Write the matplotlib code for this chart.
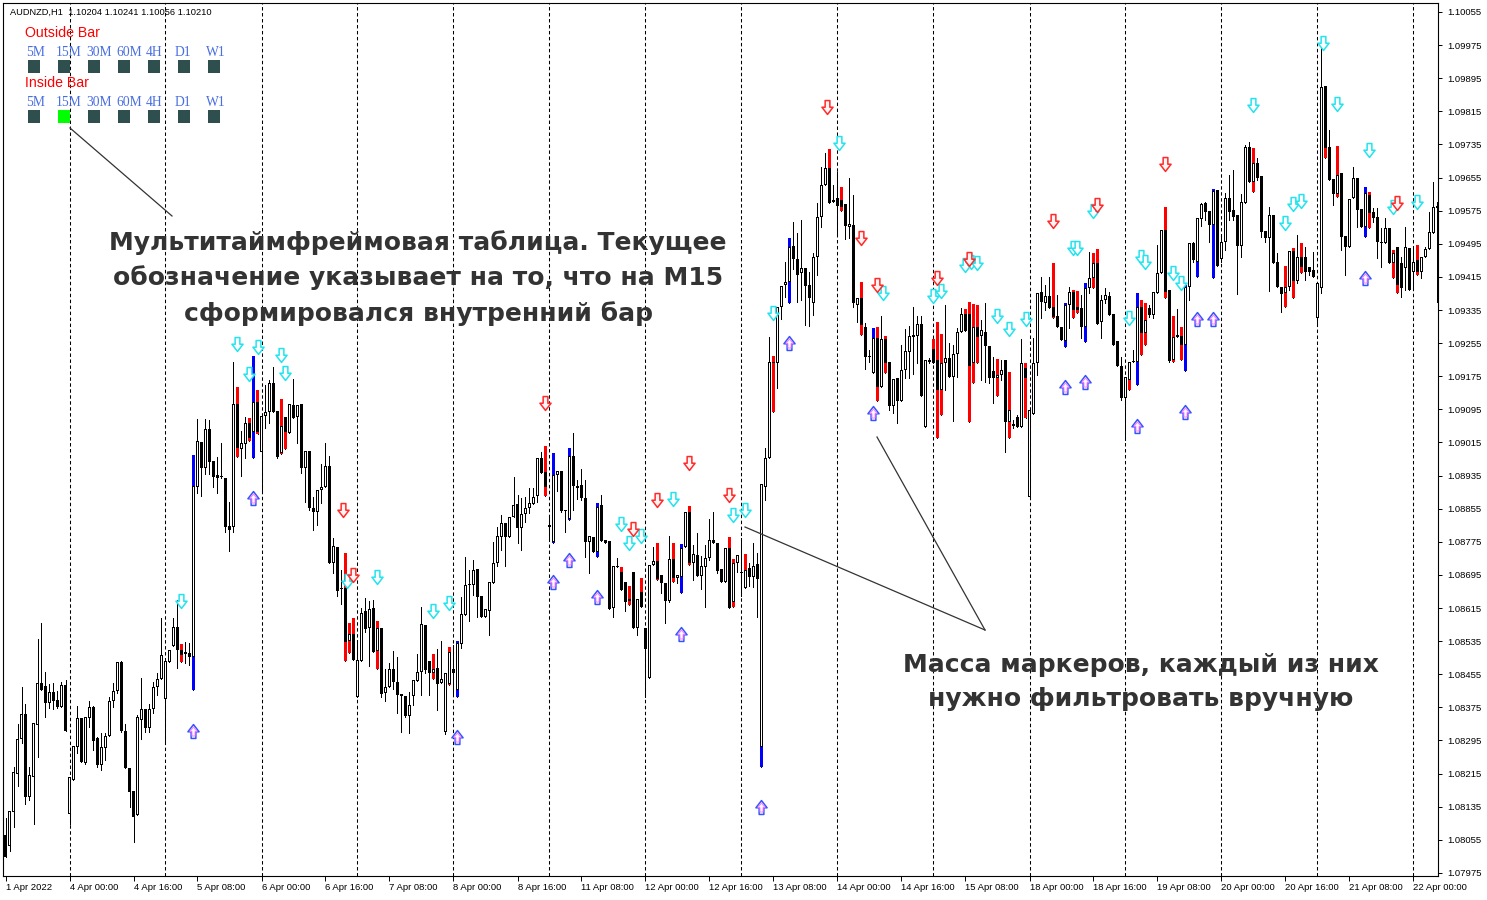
import numpy as np
import matplotlib
matplotlib.use('Agg')
import matplotlib.pyplot as plt
import matplotlib.transforms as mtransforms
from matplotlib.path import Path
from matplotlib.patches import Rectangle
from matplotlib.lines import Line2D

# AUDNZD H1, 1 Apr 2022 08:00 .. 22 Apr 2022 06:00 (one entry per bar)
opens = [
    1.08067, 1.08040, 1.08122, 1.08214, 1.08299, 1.08359, 1.08159, 1.08207, 1.08333, 1.08434, 1.08427, 1.08386,
    1.08412, 1.08393, 1.08376, 1.08429, 1.08118, 1.08200, 1.08279, 1.08350, 1.08241, 1.08350, 1.08376, 1.08301,
    1.08236, 1.08277, 1.08306, 1.08391, 1.08415, 1.08485, 1.08318, 1.08229, 1.08173, 1.08115, 1.08345, 1.08371,
    1.08325, 1.08371, 1.08424, 1.08444, 1.08395, 1.08485, 1.08523, 1.08569, 1.08514, 1.08504, 1.08507, 1.08497,
    1.08907, 1.09016, 1.08954, 1.09048, 1.08970, 1.08937, 1.08932, 1.08929, 1.08813, 1.08811, 1.09108, 1.09000,
    1.09012, 1.09062, 1.09040, 1.09113, 1.08992, 1.09079, 1.09089, 1.09159, 1.09091, 1.08990, 1.09077, 1.09038,
    1.09106, 1.09077, 1.09108, 1.08954, 1.08995, 1.08857, 1.08847, 1.08900, 1.08907, 1.08958, 1.08724, 1.08763,
    1.08661, 1.08664, 1.08536, 1.08552, 1.08400, 1.08487, 1.08608, 1.08567, 1.08615, 1.08511, 1.08567, 1.08410,
    1.08424, 1.08468, 1.08436, 1.08408, 1.08403, 1.08354, 1.08403, 1.08439, 1.08461, 1.08574, 1.08487, 1.08458,
    1.08470, 1.08434, 1.08316, 1.08432, 1.08468, 1.08417, 1.08528, 1.08598, 1.08671, 1.08671, 1.08710, 1.08644,
    1.08594, 1.08608, 1.08676, 1.08724, 1.08787, 1.08821, 1.08787, 1.08835, 1.08867, 1.08809, 1.08842, 1.08857,
    1.08867, 1.08886, 1.08977, 1.08944, 1.08811, 1.08775, 1.08937, 1.08946, 1.08852, 1.08830, 1.08982, 1.08905,
    1.08912, 1.08881, 1.08775, 1.08787, 1.08751, 1.08864, 1.08780, 1.08777, 1.08615, 1.08714, 1.08702, 1.08678,
    1.08637, 1.08702, 1.08567, 1.08654, 1.08567, 1.08446, 1.08719, 1.08729, 1.08695, 1.08676, 1.08632, 1.08734,
    1.08688, 1.08690, 1.08763, 1.08847, 1.08724, 1.08743, 1.08693, 1.08714, 1.08736, 1.08780, 1.08772, 1.08710,
    1.08678, 1.08760, 1.08630, 1.08724, 1.08700, 1.08664, 1.08712, 1.08690, 1.08722, 1.08280, 1.08907, 1.08977,
    1.09207, 1.09207, 1.09342, 1.09396, 1.09403, 1.09490, 1.09458, 1.09425, 1.09437, 1.09396, 1.09352, 1.09463,
    1.09560, 1.09637, 1.09678, 1.09601, 1.09606, 1.09601, 1.09591, 1.09536, 1.09541, 1.09347, 1.09364, 1.09294,
    1.09222, 1.09183, 1.09267, 1.09149, 1.09265, 1.09210, 1.09103, 1.09171, 1.09115, 1.09190, 1.09234, 1.09270,
    1.09272, 1.09301, 1.09053, 1.09210, 1.09241, 1.09214, 1.09142, 1.09207, 1.09219, 1.09173, 1.09229, 1.09282,
    1.09325, 1.09325, 1.09207, 1.09294, 1.09272, 1.09282, 1.09248, 1.09188, 1.09171, 1.09178, 1.09214, 1.09065,
    1.09055, 1.09077, 1.09053, 1.09195, 1.08883, 1.09084, 1.09207, 1.09379, 1.09352, 1.09369, 1.09342, 1.09321,
    1.09294, 1.09260, 1.09347, 1.09379, 1.09342, 1.09340, 1.09294, 1.09388, 1.09413, 1.09449, 1.09306, 1.09359,
    1.09369, 1.09325, 1.09260, 1.09200, 1.09123, 1.09166, 1.09210, 1.09210, 1.09342, 1.09280, 1.09340, 1.09323,
    1.09376, 1.09425, 1.09528, 1.09384, 1.09214, 1.09270, 1.09272, 1.09251, 1.09391, 1.09497, 1.09451, 1.09555,
    1.09594, 1.09574, 1.09541, 1.09625, 1.09458, 1.09499, 1.09606, 1.09577, 1.09565, 1.09490, 1.09594, 1.09729,
    1.09644, 1.09690, 1.09659, 1.09526, 1.09509, 1.09565, 1.09451, 1.09391, 1.09376, 1.09391, 1.09478, 1.09405,
    1.09463, 1.09463, 1.09439, 1.09432, 1.09316, 1.09388, 1.09876, 1.09729, 1.09652, 1.09615, 1.09666, 1.09514,
    1.09487, 1.09606, 1.09654, 1.09579, 1.09536, 1.09613, 1.09572, 1.09560, 1.09499, 1.09497, 1.09533, 1.09449,
    1.09487, 1.09449, 1.09437, 1.09485, 1.09427, 1.09456, 1.09427, 1.09463, 1.09483, 1.09521, 1.09582,
]
closes = [
    1.08014, 1.08125, 1.08219, 1.08299, 1.08359, 1.08159, 1.08212, 1.08338, 1.08434, 1.08417, 1.08386, 1.08412,
    1.08391, 1.08376, 1.08429, 1.08318, 1.08207, 1.08282, 1.08350, 1.08243, 1.08352, 1.08376, 1.08294, 1.08236,
    1.08279, 1.08306, 1.08391, 1.08415, 1.08485, 1.08318, 1.08229, 1.08171, 1.08110, 1.08352, 1.08371, 1.08325,
    1.08371, 1.08424, 1.08444, 1.08502, 1.08487, 1.08514, 1.08569, 1.08514, 1.08502, 1.08509, 1.08497, 1.08910,
    1.09019, 1.08954, 1.09048, 1.08968, 1.08932, 1.08929, 1.08932, 1.08811, 1.08804, 1.09108, 1.09002, 1.09014,
    1.09062, 1.09026, 1.09113, 1.09040, 1.09079, 1.09089, 1.09159, 1.09089, 1.08980, 1.09055, 1.09040, 1.09108,
    1.09075, 1.09106, 1.08954, 1.08995, 1.08857, 1.08847, 1.08900, 1.08907, 1.08958, 1.08724, 1.08765, 1.08656,
    1.08661, 1.08533, 1.08552, 1.08490, 1.08490, 1.08603, 1.08564, 1.08613, 1.08509, 1.08567, 1.08408, 1.08424,
    1.08468, 1.08436, 1.08405, 1.08403, 1.08354, 1.08381, 1.08441, 1.08461, 1.08577, 1.08466, 1.08458, 1.08468,
    1.08432, 1.08444, 1.08458, 1.08509, 1.08458, 1.08531, 1.08601, 1.08671, 1.08673, 1.08707, 1.08642, 1.08594,
    1.08613, 1.08678, 1.08724, 1.08789, 1.08821, 1.08787, 1.08835, 1.08864, 1.08809, 1.08842, 1.08857, 1.08869,
    1.08883, 1.08977, 1.08941, 1.08907, 1.08816, 1.08937, 1.08946, 1.08850, 1.08850, 1.08982, 1.08910, 1.08910,
    1.08881, 1.08775, 1.08789, 1.08751, 1.08859, 1.08777, 1.08772, 1.08613, 1.08717, 1.08717, 1.08659, 1.08630,
    1.08632, 1.08567, 1.08637, 1.08618, 1.08516, 1.08719, 1.08729, 1.08685, 1.08676, 1.08632, 1.08734, 1.08688,
    1.08695, 1.08760, 1.08847, 1.08724, 1.08746, 1.08693, 1.08717, 1.08736, 1.08780, 1.08772, 1.08705, 1.08678,
    1.08760, 1.08615, 1.08724, 1.08743, 1.08700, 1.08707, 1.08690, 1.08717, 1.08685, 1.08915, 1.08977, 1.09210,
    1.09210, 1.09342, 1.09393, 1.09403, 1.09487, 1.09458, 1.09420, 1.09437, 1.09393, 1.09364, 1.09463, 1.09560,
    1.09637, 1.09678, 1.09594, 1.09596, 1.09586, 1.09584, 1.09538, 1.09543, 1.09352, 1.09364, 1.09299, 1.09222,
    1.09224, 1.09267, 1.09149, 1.09265, 1.09207, 1.09103, 1.09169, 1.09115, 1.09190, 1.09236, 1.09272, 1.09275,
    1.09301, 1.09127, 1.09214, 1.09214, 1.09207, 1.09142, 1.09207, 1.09219, 1.09173, 1.09229, 1.09282, 1.09325,
    1.09284, 1.09200, 1.09294, 1.09270, 1.09287, 1.09248, 1.09171, 1.09171, 1.09178, 1.09190, 1.09065, 1.09094,
    1.09060, 1.09053, 1.09207, 1.09171, 1.09094, 1.09207, 1.09376, 1.09355, 1.09369, 1.09340, 1.09318, 1.09294,
    1.09263, 1.09347, 1.09379, 1.09335, 1.09335, 1.09294, 1.09388, 1.09413, 1.09449, 1.09301, 1.09359, 1.09372,
    1.09323, 1.09251, 1.09200, 1.09123, 1.09173, 1.09210, 1.09212, 1.09342, 1.09280, 1.09311, 1.09323, 1.09379,
    1.09425, 1.09528, 1.09379, 1.09212, 1.09270, 1.09275, 1.09251, 1.09391, 1.09497, 1.09456, 1.09557, 1.09591,
    1.09572, 1.09541, 1.09622, 1.09442, 1.09499, 1.09606, 1.09572, 1.09560, 1.09490, 1.09596, 1.09729, 1.09644,
    1.09690, 1.09654, 1.09524, 1.09509, 1.09565, 1.09449, 1.09391, 1.09374, 1.09391, 1.09478, 1.09405, 1.09463,
    1.09439, 1.09427, 1.09427, 1.09415, 1.09400, 1.09874, 1.09727, 1.09649, 1.09615, 1.09661, 1.09512, 1.09487,
    1.09603, 1.09654, 1.09577, 1.09536, 1.09618, 1.09570, 1.09557, 1.09499, 1.09497, 1.09533, 1.09449, 1.09473,
    1.09396, 1.09388, 1.09487, 1.09384, 1.09451, 1.09427, 1.09463, 1.09483, 1.09524, 1.09584, 1.09586,
]
highs = [
    1.08108, 1.08125, 1.08231, 1.08335, 1.08424, 1.08383, 1.08231, 1.08338, 1.08540, 1.08579, 1.08461, 1.08432,
    1.08434, 1.08415, 1.08436, 1.08441, 1.08207, 1.08282, 1.08378, 1.08350, 1.08352, 1.08391, 1.08378, 1.08304,
    1.08313, 1.08313, 1.08400, 1.08434, 1.08485, 1.08487, 1.08335, 1.08229, 1.08173, 1.08357, 1.08446, 1.08371,
    1.08383, 1.08436, 1.08458, 1.08591, 1.08487, 1.08514, 1.08591, 1.08635, 1.08528, 1.08533, 1.08531, 1.08985,
    1.09072, 1.09016, 1.09072, 1.09070, 1.08970, 1.08980, 1.09014, 1.08929, 1.08871, 1.09210, 1.09149, 1.09043,
    1.09077, 1.09075, 1.09224, 1.09142, 1.09079, 1.09154, 1.09166, 1.09198, 1.09091, 1.09120, 1.09077, 1.09108,
    1.09169, 1.09106, 1.09108, 1.08995, 1.08995, 1.08883, 1.08900, 1.08963, 1.09014, 1.08982, 1.08784, 1.08763,
    1.08707, 1.08748, 1.08579, 1.08591, 1.08538, 1.08615, 1.08639, 1.08632, 1.08635, 1.08584, 1.08567, 1.08468,
    1.08482, 1.08511, 1.08497, 1.08408, 1.08403, 1.08412, 1.08441, 1.08504, 1.08618, 1.08574, 1.08487, 1.08504,
    1.08516, 1.08536, 1.08458, 1.08521, 1.08526, 1.08536, 1.08642, 1.08739, 1.08707, 1.08731, 1.08710, 1.08644,
    1.08613, 1.08678, 1.08775, 1.08811, 1.08840, 1.08821, 1.08835, 1.08932, 1.08888, 1.08881, 1.08883, 1.08905,
    1.08905, 1.08977, 1.08992, 1.09007, 1.08840, 1.08990, 1.08946, 1.08946, 1.08852, 1.09002, 1.09038, 1.08925,
    1.08951, 1.08925, 1.08789, 1.08787, 1.08869, 1.08888, 1.08780, 1.08777, 1.08717, 1.08736, 1.08714, 1.08678,
    1.08668, 1.08702, 1.08637, 1.08688, 1.08567, 1.08719, 1.08763, 1.08772, 1.08695, 1.08676, 1.08789, 1.08772,
    1.08695, 1.08770, 1.08847, 1.08862, 1.08768, 1.08797, 1.08741, 1.08768, 1.08830, 1.08847, 1.08772, 1.08710,
    1.08760, 1.08787, 1.08734, 1.08743, 1.08784, 1.08746, 1.08724, 1.08772, 1.08748, 1.08915, 1.09002, 1.09270,
    1.09224, 1.09342, 1.09393, 1.09451, 1.09509, 1.09548, 1.09521, 1.09553, 1.09437, 1.09427, 1.09473, 1.09594,
    1.09681, 1.09715, 1.09724, 1.09637, 1.09669, 1.09632, 1.09591, 1.09654, 1.09613, 1.09364, 1.09403, 1.09304,
    1.09239, 1.09292, 1.09294, 1.09321, 1.09272, 1.09210, 1.09169, 1.09171, 1.09251, 1.09289, 1.09296, 1.09342,
    1.09321, 1.09321, 1.09214, 1.09219, 1.09265, 1.09306, 1.09277, 1.09347, 1.09256, 1.09251, 1.09292, 1.09340,
    1.09338, 1.09354, 1.09350, 1.09347, 1.09311, 1.09352, 1.09248, 1.09222, 1.09217, 1.09214, 1.09214, 1.09185,
    1.09070, 1.09082, 1.09265, 1.09207, 1.09094, 1.09268, 1.09376, 1.09415, 1.09396, 1.09415, 1.09449, 1.09372,
    1.09294, 1.09352, 1.09391, 1.09384, 1.09381, 1.09372, 1.09400, 1.09475, 1.09473, 1.09483, 1.09372, 1.09388,
    1.09379, 1.09325, 1.09260, 1.09222, 1.09173, 1.09210, 1.09239, 1.09376, 1.09359, 1.09352, 1.09347, 1.09379,
    1.09492, 1.09528, 1.09584, 1.09384, 1.09321, 1.09338, 1.09294, 1.09396, 1.09497, 1.09499, 1.09557, 1.09594,
    1.09596, 1.09574, 1.09627, 1.09625, 1.09516, 1.09618, 1.09661, 1.09673, 1.09565, 1.09615, 1.09734, 1.09741,
    1.09727, 1.09702, 1.09659, 1.09526, 1.09584, 1.09565, 1.09473, 1.09391, 1.09442, 1.09478, 1.09485, 1.09516,
    1.09497, 1.09487, 1.09439, 1.09475, 1.09400, 1.09968, 1.09876, 1.09770, 1.09652, 1.09731, 1.09666, 1.09514,
    1.09603, 1.09681, 1.09654, 1.09579, 1.09632, 1.09620, 1.09582, 1.09582, 1.09533, 1.09557, 1.09533, 1.09480,
    1.09487, 1.09463, 1.09536, 1.09485, 1.09485, 1.09492, 1.09463, 1.09487, 1.09572, 1.09644, 1.09596,
]
lows = [
    1.08014, 1.08028, 1.08086, 1.08185, 1.08289, 1.08142, 1.08151, 1.08093, 1.08255, 1.08417, 1.08352, 1.08374,
    1.08371, 1.08374, 1.08376, 1.08318, 1.08093, 1.08200, 1.08265, 1.08243, 1.08238, 1.08328, 1.08272, 1.08231,
    1.08224, 1.08248, 1.08306, 1.08376, 1.08410, 1.08316, 1.08229, 1.08135, 1.08050, 1.08115, 1.08299, 1.08316,
    1.08316, 1.08361, 1.08405, 1.08444, 1.08287, 1.08485, 1.08523, 1.08470, 1.08485, 1.08482, 1.08478, 1.08417,
    1.08893, 1.08886, 1.08939, 1.08939, 1.08907, 1.08893, 1.08929, 1.08799, 1.08753, 1.08799, 1.08980, 1.08934,
    1.08977, 1.09019, 1.08977, 1.09036, 1.08900, 1.09050, 1.09062, 1.09089, 1.08977, 1.08987, 1.09000, 1.09038,
    1.09075, 1.09014, 1.08941, 1.08871, 1.08852, 1.08804, 1.08816, 1.08869, 1.08907, 1.08724, 1.08700, 1.08644,
    1.08625, 1.08487, 1.08507, 1.08490, 1.08400, 1.08487, 1.08557, 1.08475, 1.08509, 1.08468, 1.08400, 1.08391,
    1.08424, 1.08420, 1.08361, 1.08316, 1.08352, 1.08313, 1.08381, 1.08439, 1.08405, 1.08458, 1.08405, 1.08444,
    1.08369, 1.08434, 1.08311, 1.08429, 1.08403, 1.08400, 1.08519, 1.08598, 1.08584, 1.08647, 1.08594, 1.08594,
    1.08594, 1.08550, 1.08676, 1.08717, 1.08755, 1.08717, 1.08787, 1.08835, 1.08772, 1.08755, 1.08823, 1.08845,
    1.08867, 1.08871, 1.08941, 1.08886, 1.08780, 1.08772, 1.08898, 1.08847, 1.08799, 1.08828, 1.08852, 1.08879,
    1.08876, 1.08739, 1.08700, 1.08751, 1.08739, 1.08777, 1.08772, 1.08613, 1.08594, 1.08714, 1.08659, 1.08608,
    1.08622, 1.08567, 1.08550, 1.08618, 1.08400, 1.08446, 1.08719, 1.08683, 1.08651, 1.08579, 1.08630, 1.08678,
    1.08676, 1.08651, 1.08763, 1.08719, 1.08683, 1.08693, 1.08661, 1.08618, 1.08731, 1.08772, 1.08700, 1.08678,
    1.08678, 1.08615, 1.08618, 1.08702, 1.08644, 1.08664, 1.08668, 1.08666, 1.08594, 1.08231, 1.08876, 1.08977,
    1.09089, 1.09147, 1.09313, 1.09367, 1.09352, 1.09434, 1.09355, 1.09359, 1.09299, 1.09296, 1.09323, 1.09420,
    1.09536, 1.09637, 1.09594, 1.09596, 1.09516, 1.09574, 1.09507, 1.09509, 1.09342, 1.09306, 1.09275, 1.09193,
    1.09210, 1.09183, 1.09115, 1.09149, 1.09183, 1.09094, 1.09086, 1.09062, 1.09115, 1.09171, 1.09171, 1.09181,
    1.09207, 1.09127, 1.09053, 1.09207, 1.09207, 1.09026, 1.09082, 1.09142, 1.09173, 1.09067, 1.09173, 1.09282,
    1.09284, 1.09065, 1.09159, 1.09207, 1.09166, 1.09161, 1.09159, 1.09110, 1.09127, 1.09166, 1.08992, 1.09026,
    1.09050, 1.09053, 1.09053, 1.09075, 1.08883, 1.09084, 1.09178, 1.09316, 1.09335, 1.09340, 1.09316, 1.09294,
    1.09263, 1.09246, 1.09292, 1.09316, 1.09328, 1.09268, 1.09258, 1.09376, 1.09388, 1.09301, 1.09268, 1.09352,
    1.09323, 1.09251, 1.09200, 1.09118, 1.09021, 1.09142, 1.09210, 1.09154, 1.09227, 1.09251, 1.09318, 1.09316,
    1.09376, 1.09425, 1.09364, 1.09210, 1.09210, 1.09270, 1.09214, 1.09188, 1.09359, 1.09451, 1.09415, 1.09538,
    1.09553, 1.09499, 1.09413, 1.09442, 1.09451, 1.09480, 1.09553, 1.09553, 1.09374, 1.09463, 1.09594, 1.09644,
    1.09620, 1.09649, 1.09512, 1.09499, 1.09381, 1.09449, 1.09391, 1.09330, 1.09342, 1.09384, 1.09364, 1.09400,
    1.09425, 1.09408, 1.09420, 1.09415, 1.09301, 1.09376, 1.09702, 1.09649, 1.09589, 1.09608, 1.09480, 1.09420,
    1.09487, 1.09606, 1.09536, 1.09536, 1.09512, 1.09533, 1.09548, 1.09461, 1.09439, 1.09497, 1.09449, 1.09413,
    1.09376, 1.09367, 1.09384, 1.09384, 1.09384, 1.09420, 1.09413, 1.09463, 1.09483, 1.09521, 1.09355,
]

# bars painted by the outside/inside bar indicator
red_bars = [44, 58, 61, 63, 69, 70, 85, 86, 87, 93, 107, 111, 135, 154, 156, 157, 159, 163, 167, 171,
            181, 182, 185, 192, 206, 209, 214, 218, 220, 232, 233, 234, 240, 241, 242, 243, 248, 251,
            255, 262, 267, 268, 272, 273, 281, 284, 285, 290, 292, 294, 312, 320, 322, 324, 330, 333,
            341, 347, 348, 353]
blue_bars = [47, 62, 113, 137, 141, 148, 169, 189, 196, 217, 265, 270, 283, 295, 298, 302, 340]

# arrow markers (bar index, price)
cyan_x = [44, 58, 61, 63, 69, 70, 85.5, 93, 107, 111, 154, 156, 159, 167, 182, 185, 192, 208.5, 219.5,
          232, 234, 240, 241.5, 243, 248, 251, 255, 267, 268, 272, 281, 284, 285, 292, 294, 312, 320,
          322, 324, 329.5, 333, 341, 347, 353]
cyan_y = [1.08632, 1.09253, 1.09181, 1.09246, 1.09227, 1.09183, 1.08680, 1.08690, 1.08608, 1.08627,
          1.08818, 1.08772, 1.08789, 1.08879, 1.08840, 1.08852, 1.09328, 1.09739, 1.09376, 1.09369,
          1.09381, 1.09444, 1.09451, 1.09449, 1.09321, 1.09289, 1.09313, 1.09485, 1.09485, 1.09574,
          1.09316, 1.09463, 1.09451, 1.09425, 1.09400, 1.09830, 1.09545, 1.09591, 1.09599, 1.09980,
          1.09833, 1.09722, 1.09584, 1.09596]
red_x = [84.5, 87, 135, 157, 163, 171, 181, 205.5, 214, 218, 233, 241, 262, 273, 290, 348]
red_y = [1.08852, 1.08695, 1.09111, 1.08806, 1.08876, 1.08966, 1.08888, 1.09826, 1.09509, 1.09396,
         1.09413, 1.09458, 1.09550, 1.09589, 1.09688, 1.09594]
up_x = [47, 62, 113, 137, 141, 148, 169, 189, 196, 217, 265, 270, 283, 295, 298, 302, 340]
up_y = [1.08318, 1.08881, 1.08304, 1.08678, 1.08731, 1.08642, 1.08552, 1.08134, 1.09255, 1.09086,
        1.09149, 1.09161, 1.09055, 1.09089, 1.09313, 1.09313, 1.09413]

day_starts = [16, 40, 64, 88, 112, 136, 160, 184, 208, 232, 256, 280, 304, 328, 352]
time_ticks = [0, 16, 32, 48, 64, 80, 96, 112, 128, 144, 160, 176, 192, 208, 224, 240, 256, 272,
              288, 304, 320, 336, 352]
time_labels = ['1 Apr 2022', '4 Apr 00:00', '4 Apr 16:00', '5 Apr 08:00', '6 Apr 00:00', '6 Apr 16:00',
               '7 Apr 08:00', '8 Apr 00:00', '8 Apr 16:00', '11 Apr 08:00', '12 Apr 00:00',
               '12 Apr 16:00', '13 Apr 08:00', '14 Apr 00:00', '14 Apr 16:00', '15 Apr 08:00',
               '18 Apr 00:00', '18 Apr 16:00', '19 Apr 08:00', '20 Apr 00:00', '20 Apr 16:00',
               '21 Apr 08:00', '22 Apr 00:00']
price_ticks = [1.07975 + 0.0008 * k for k in range(27)]

timeframes = ['5M', '15M', '30M', '60M', '4H', 'D1', 'W1']
outside_state = [0, 0, 0, 0, 0, 0, 0]
inside_state = [0, 1, 0, 0, 0, 0, 0]

plt.rcParams['font.family'] = ['Liberation Sans', 'DejaVu Sans']
plt.rcParams['lines.scale_dashes'] = False

W, H = 1487, 900
fig = plt.figure(figsize=(W / 100, H / 100), dpi=100)
ax = fig.add_axes([3 / W, 24 / H, 1435 / W, 873 / H])

YMIN, YMAX = 1.079676, 1.100767
px = (YMAX - YMIN) / 873.0   # one screen pixel in price units

o = np.array(opens)
c = np.array(closes)
hi = np.maximum(np.array(highs), np.maximum(o, c))
lo = np.minimum(np.array(lows), np.minimum(o, c))
x = np.arange(len(c))

for d in day_starts:
    ax.axvline(d, color='black', lw=0.75, dashes=(2.5, 1.8), zorder=0.5)

ax.vlines(x, lo, hi, color='black', lw=0.72, zorder=1, antialiased=False)
for idx, col in [(red_bars, '#ff0000'), (blue_bars, '#0000ff')]:
    idx = np.array(idx)
    ax.bar(idx, hi[idx] - lo[idx], bottom=lo[idx], width=0.75, color=col, lw=0, zorder=2,
           antialiased=False)

# bodies: black block, white core for rising bars
body_lo = np.minimum(o, c)
body_h = np.maximum(np.abs(c - o), px)
ax.bar(x, body_h, bottom=body_lo, width=0.75, color='black', lw=0, zorder=3, antialiased=False)
core = (c > o) & ((c - o) > 2.5 * px)
ax.bar(x[core], (c - o)[core] - 2 * px, bottom=o[core] + px, width=0.25, color='white', lw=0,
       zorder=3.5, antialiased=False)

# hollow arrow glyphs
down_v = [(-0.17, 0.5), (0.17, 0.5), (0.17, 0.02), (0.4, 0.02), (0.0, -0.5), (-0.4, 0.02),
          (-0.17, 0.02), (-0.17, 0.5)]
codes = [Path.MOVETO] + [Path.LINETO] * 6 + [Path.CLOSEPOLY]
down_arrow = Path(down_v, codes)
up_arrow = Path([(vx, -vy) for vx, vy in down_v], codes)

ax.plot(cyan_x, cyan_y, ls='none', marker=down_arrow, ms=10, mfc='white', mec='#22e4ee', mew=1.1,
        zorder=4)
ax.plot(red_x, red_y, ls='none', marker=down_arrow, ms=10, mfc='#fff4f4', mec='#ff2a2a', mew=1.1,
        zorder=4)
ax.plot(up_x, up_y, ls='none', marker=up_arrow, ms=10, mfc='white', mec='#3355ff', mew=1.1,
        zorder=4)
ax.plot(up_x, up_y, ls='none', marker=up_arrow, ms=6.5, mfc='none', mec='#ff77ff', mew=0.7,
        zorder=4)

ax.set_xlim(-0.625, 358.125)
ax.set_ylim(YMIN, YMAX)

ax.set_xticks(time_ticks)
ax.set_xticklabels(time_labels)
offset = mtransforms.ScaledTranslation(1.5 / 100, 0, fig.dpi_scale_trans)
for lab in ax.get_xticklabels():
    lab.set_ha('left')
    lab.set_transform(lab.get_transform() + offset)
ax.set_yticks(price_ticks)
ax.set_yticklabels(['%.5f' % p for p in price_ticks])
ax.yaxis.tick_right()
ax.tick_params(axis='x', length=3.5, width=0.7, pad=1.5, labelsize=6.8, direction='out')
ax.tick_params(axis='y', length=3.0, width=0.7, pad=3.5, labelsize=6.8, direction='out')
for sp in ax.spines.values():
    sp.set_color('black')
    sp.set_linewidth(0.8)


def fx(p):
    return p / W


def fy(p):
    return 1 - p / H


# header and the multi-timeframe table
fig.text(fx(10), fy(12), 'AUDNZD,H1  1.10204 1.10241 1.10056 1.10210', fontsize=6.7, va='center',
         color='black')
tf_left = [26, 56, 86, 116, 146, 175, 206]
for title, states, ty in [('Outside Bar', outside_state, 33), ('Inside Bar', inside_state, 83)]:
    fig.text(fx(25), fy(ty), title, fontsize=10.2, color='#ff0000', va='center')
    for k, (tf, st) in enumerate(zip(timeframes, states)):
        fig.text(fx(tf_left[k]), fy(ty + 19), tf, fontsize=9.8, color='#4a6fe0', va='center',
                 family='Liberation Serif')
        sq = Rectangle((fx(28 + 30 * k), fy(ty + 40)), 12 / W, 13 / H, transform=fig.transFigure,
                       facecolor='#00ff00' if st else '#2f4f4f', edgecolor='none')
        fig.add_artist(sq)

# annotations
note_col = '#333333'
fig.text(fx(418), fy(278), 'Мультитаймфреймовая таблица. Текущее\n'
         'обозначение указывает на то, что на М15\nсформировался внутренний бар',
         ha='center', va='center', fontsize=18, fontweight='bold', color=note_col,
         family='DejaVu Sans', linespacing=1.55)
fig.text(fx(1141), fy(682), 'Масса маркеров, каждый из них\nнужно фильтровать вручную',
         ha='center', va='center', fontsize=18, fontweight='bold', color=note_col,
         family='DejaVu Sans', linespacing=1.55)
for (x1, y1), (x2, y2) in [((70, 128), (172, 216)), ((985, 630), (745, 527)),
                           ((985, 630), (877, 437))]:
    fig.add_artist(Line2D([fx(x1), fx(x2)], [fy(y1), fy(y2)], color=note_col, lw=0.9))

fig.savefig('out.png', dpi=100, facecolor='white')
